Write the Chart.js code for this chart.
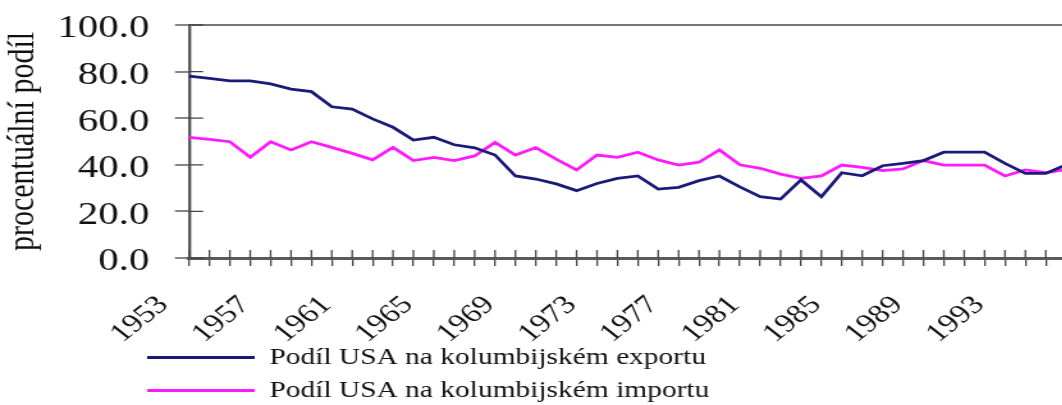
<!DOCTYPE html>
<html>
<head>
<meta charset="utf-8">
<script src="https://cdn.jsdelivr.net/npm/chart.js@4.4.1/dist/chart.umd.min.js"></script>
<style>
  html, body { margin: 0; padding: 0; background: #fff; overflow: hidden }
  #wrap { width: 1062px; height: 405px; overflow: hidden; position: relative }
  #c { display: block }
</style>
</head>
<body>
<div id="wrap"><canvas id="c"></canvas></div>
<script>
// data
const years = [1953,1954,1955,1956,1957,1958,1959,1960,1961,1962,1963,1964,1965,1966,1967,1968,
  1969,1970,1971,1972,1973,1974,1975,1976,1977,1978,1979,1980,1981,1982,1983,1984,1985,1986,
  1987,1988,1989,1990,1991,1992,1993,1994,1995,1996]
const labeledYears = [1953,1957,1961,1965,1969,1973,1977,1981,1985,1989,1993]
const exportShare = [78.1,77.1,76.0,76.0,74.7,72.5,71.4,64.9,63.9,59.7,56.1,50.6,51.8,48.6,47.3,44.2,
  35.2,33.9,31.8,28.9,32.0,34.2,35.2,29.6,30.3,33.2,35.2,30.5,26.3,25.3,33.5,26.3,36.6,35.3,
  39.6,40.6,41.8,45.4,45.4,45.4,40.6,36.3,36.3,40.0]
const importShare = [51.8,50.9,49.9,43.2,49.9,46.4,49.9,47.5,44.9,42.1,47.5,41.8,43.2,41.8,43.8,49.6,
  44.2,47.4,42.4,37.8,44.2,43.2,45.4,42.1,39.9,41.1,46.4,40.0,38.5,36.0,34.2,35.2,39.9,38.9,
  37.5,38.2,41.8,39.9,39.9,39.9,35.2,37.8,36.6,38.0]
const yTicks = [0, 20, 40, 60, 80, 100]

// the original is stretched sideways, so the canvas is drawn narrow and widened by css
const SX = 1.28
const canvas = document.getElementById('c')
canvas.width = 840
canvas.height = 434
canvas.style.width = (840 * SX) + 'px'
canvas.style.height = '434px'

const serif = "'Liberation Serif', 'Times New Roman', serif"
Chart.defaults.font.family = serif
Chart.defaults.color = '#111'

// legend box is pulled up into the x axis area and moved to the left
const legendBox = { left: 105, top: 336, height: 76 }

const crossTicks = {
  id: 'crossTicks',
  afterLayout(chart) {
    const lg = chart.legend
    lg.left = legendBox.left
    lg.top = legendBox.top
    lg.bottom = legendBox.top + legendBox.height
  },
  afterDraw(chart) {
    const { ctx, chartArea: a, scales: { x, y } } = chart
    ctx.save()
    ctx.strokeStyle = '#444'
    ctx.lineWidth = 1.3
    ctx.beginPath()
    x.ticks.forEach((t, i) => {
      const px = x.getPixelForTick(i)
      ctx.moveTo(px, a.bottom); ctx.lineTo(px, a.bottom - 8)
    })
    y.ticks.forEach((t, i) => {
      const py = y.getPixelForTick(i)
      ctx.moveTo(a.left, py); ctx.lineTo(a.left + 11, py)
    })
    ctx.stroke()
    ctx.restore()
  }
}

new Chart(canvas, {
  type: 'line',
  data: {
    labels: years,
    datasets: [
      { label: 'Podíl USA na kolumbijském exportu', data: exportShare,
        borderColor: '#1a1a78', backgroundColor: '#1a1a78', borderWidth: 2.8, pointRadius: 0, tension: 0 },
      { label: 'Podíl USA na kolumbijském importu', data: importShare,
        borderColor: '#ff1aff', backgroundColor: '#ff1aff', borderWidth: 2.8, pointRadius: 0, tension: 0 }
    ]
  },
  options: {
    responsive: false,
    devicePixelRatio: 1,
    animation: false,
    layout: { padding: { top: 25, right: 6.9, bottom: 0, left: 0 } },
    plugins: {
      tooltip: { enabled: false },
      legend: {
        position: 'bottom',
        align: 'start',
        labels: {
          usePointStyle: true,
          pointStyle: 'line',
          pointStyleWidth: 84,
          padding: 10,
          color: '#111',
          font: { size: 23, family: serif }
        }
      }
    },
    scales: {
      x: {
        type: 'category',
        offset: false,
        grid: { drawOnChartArea: false, tickLength: 8, tickColor: '#444', lineWidth: 1.3 },
        border: { color: '#5a5a5a', width: 3 },
        ticks: {
          autoSkip: false,
          minRotation: 45,
          maxRotation: 45,
          padding: 24,
          labelOffset: c => c.index === 0 ? -11 : -20,
          color: '#111',
          font: { size: 26, family: serif },
          callback: (v, i) => labeledYears.includes(years[i]) ? String(years[i]) : ''
        },
        afterFit: s => { s.height = 100; s.paddingLeft = 0; s.paddingRight = 0 }
      },
      y: {
        min: 0,
        max: 100,
        afterBuildTicks: s => { s.ticks = yTicks.map(v => ({ value: v })) },
        grid: {
          color: c => (c.tick && c.tick.value === 100) ? '#777' : 'rgba(0,0,0,0)',
          lineWidth: 2,
          tickLength: 11,
          tickColor: '#444',
          tickWidth: 1.3
        },
        border: { color: '#5a5a5a', width: 2.4 },
        ticks: {
          padding: 20,
          labelOffset: 4,
          color: '#111',
          font: { size: 32, family: serif },
          callback: v => Number(v).toFixed(1)
        },
        title: {
          display: true,
          text: 'procentuální podíl',
          color: '#111',
          padding: { top: 0, bottom: 0 },
          font: { size: 30, family: serif }
        },
        afterFit: s => { s.width = 147.7; s.paddingTop = 0; s.paddingBottom = 0 }
      }
    }
  },
  plugins: [crossTicks]
})
</script>
</body>
</html>
